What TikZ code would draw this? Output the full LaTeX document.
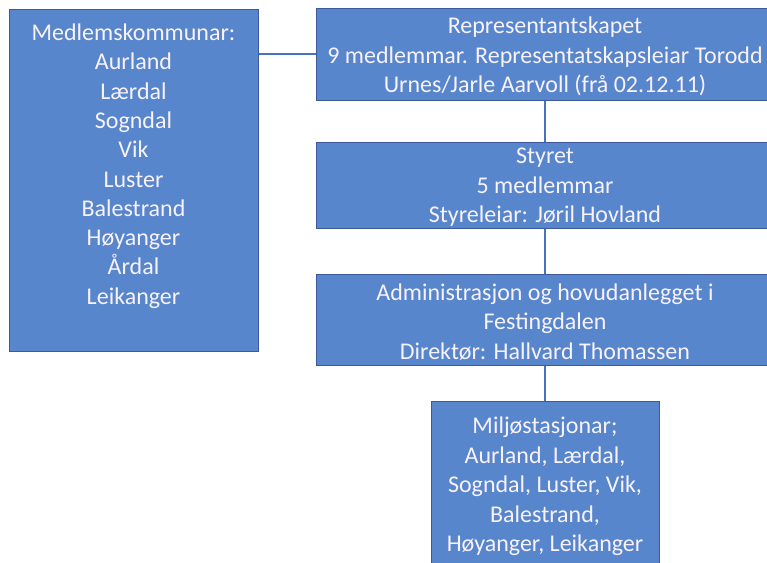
\documentclass[tikz,border=0pt]{standalone}
\usepackage{fontspec}
\setmainfont{Carlito}
\definecolor{boxfill}{RGB}{88,134,204}
\definecolor{boxline}{RGB}{62,88,158}
\definecolor{linkcol}{RGB}{70,115,192}
\definecolor{boxtext}{RGB}{248,242,250}
\newcommand\orgtext[3]{\parbox[c][#1][c]{#2}{\centering\vspace*{5pt}#3}}
\begin{document}
\begin{tikzpicture}[x=1pt,y=-1pt,
  orgbox/.style={draw=boxline, fill=boxfill, line width=1pt, inner sep=0pt,
    text=boxtext, align=center, font=\fontsize{24}{29.5}\selectfont},
  link/.style={draw=linkcol, line width=1.3pt}]
\useasboundingbox (0,0) rectangle (767,562);
\begin{scope}
\clip (0,0) rectangle (767,562);
\node[orgbox, minimum width=249pt, minimum height=342pt] (members) at (133.5,180)
  {\parbox[c][342pt][t]{249pt}{\centering\fontsize{24}{29.3}\selectfont
   \rule{0pt}{31.5pt}Medlemskommunar:\\ Aurland\\ Lærdal\\ Sogndal\\ Vik\\ Luster\\ Balestrand\\ Høyanger\\ Årdal\\ Leikanger}};
\node[orgbox, minimum width=458pt, minimum height=92pt] (rep) at (545,54)
  {\orgtext{92pt}{458pt}{Representantskapet\\ 9 medlemmar. Representatskapsleiar Torodd\\ Urnes/Jarle Aarvoll (frå 02.12.11)}};
\node[orgbox, minimum width=458pt, minimum height=86pt] (styret) at (545,185)
  {\orgtext{86pt}{458pt}{Styret\\ 5 medlemmar\\ Styreleiar: Jøril Hovland}};
\node[orgbox, minimum width=458pt, minimum height=91pt] (admin) at (545,319.5)
  {\orgtext{91pt}{458pt}{Administrasjon og hovudanlegget i\\ Festingdalen\\ Direktør: Hallvard Thomassen}};
\node[orgbox, minimum width=228pt, minimum height=166pt] (miljo) at (545,484)
  {\orgtext{166pt}{228pt}{Miljøstasjonar;\\ Aurland, Lærdal,\\ Sogndal, Luster, Vik,\\ Balestrand,\\ Høyanger, Leikanger}};
\draw[link] (rep.west) -- (rep.west -| members.east);
\draw[link] (rep.south) -- (styret.north);
\draw[link] (styret.south) -- (admin.north);
\draw[link] (admin.south) -- (miljo.north);
\end{scope}
\end{tikzpicture}
\end{document}
